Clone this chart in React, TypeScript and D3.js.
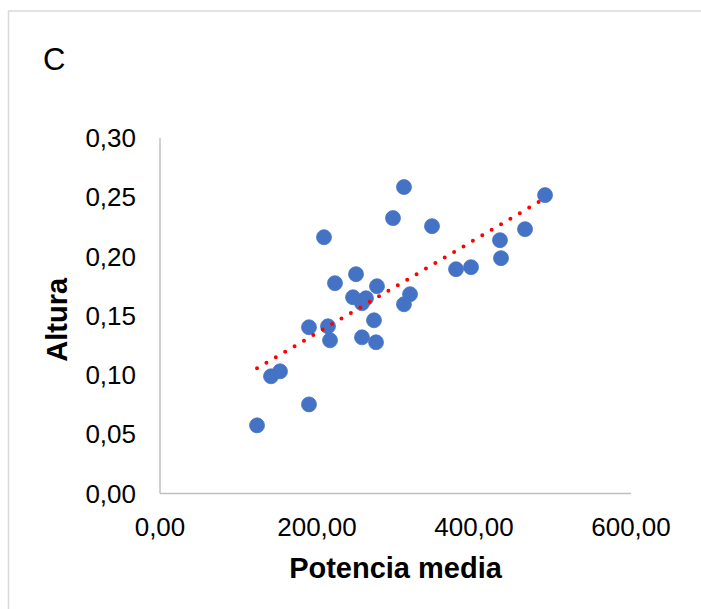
import { useEffect, useRef } from "react";
import * as d3 from "d3";

// Potencia media (x) vs Altura (y)
const potencia = [
  123.6, 141.4, 152.9, 189.8, 189.8, 214.0, 216.6, 208.9, 222.9, 249.7,
  245.9, 262.4, 257.3, 257.3, 275.2, 272.6, 276.4, 296.8, 310.8, 318.5,
  310.8, 346.5, 377.1, 396.2, 433.1, 434.4, 465.0, 490.5,
];
const altura = [
  0.0575, 0.0989, 0.1031, 0.0752, 0.1403, 0.1411, 0.1293, 0.2163, 0.1775, 0.1851,
  0.1656, 0.1648, 0.1606, 0.1318, 0.1276, 0.1462, 0.1749, 0.2324, 0.2586, 0.1682,
  0.1597, 0.2256, 0.1893, 0.191, 0.2138, 0.1986, 0.2231, 0.2518,
];
const xTicks = [0, 200, 400, 600];
const yTicks = [0, 0.05, 0.1, 0.15, 0.2, 0.25, 0.3];

const fmt = (d: number, digits: number) => d.toFixed(digits).replace(".", ",");

const App = () => {
  const svgRef = useRef<SVGSVGElement>(null);

  useEffect(() => {
    const svg = d3.select(svgRef.current);
    svg.selectAll("*").remove();

    const x = d3.scaleLinear().domain([0, 600]).range([160, 631]);
    const y = d3.scaleLinear().domain([0, 0.3]).range([493.5, 138]);
    const font = "Liberation Sans, Arial, sans-serif";

    // chart frame
    svg
      .append("rect")
      .attr("x", 8.5)
      .attr("y", 11)
      .attr("width", 720)
      .attr("height", 640)
      .attr("fill", "#fff")
      .attr("stroke", "#d9d9d9")
      .attr("stroke-width", 1.5);

    svg
      .append("text")
      .attr("x", 43)
      .attr("y", 70)
      .attr("font-family", font)
      .attr("font-size", 31)
      .text("C");

    // axes lines
    svg
      .append("line")
      .attr("x1", x(0))
      .attr("x2", x(0))
      .attr("y1", y(0.3))
      .attr("y2", y(0))
      .attr("stroke", "#bfbfbf")
      .attr("stroke-width", 1.5);
    svg
      .append("line")
      .attr("x1", x(0))
      .attr("x2", x(600))
      .attr("y1", y(0))
      .attr("y2", y(0))
      .attr("stroke", "#bfbfbf")
      .attr("stroke-width", 1.5);

    svg
      .append("g")
      .selectAll("text")
      .data(yTicks)
      .join("text")
      .attr("x", 136)
      .attr("y", (d) => y(d) + 9)
      .attr("text-anchor", "end")
      .attr("font-family", font)
      .attr("font-size", 26)
      .attr("fill", "#000")
      .text((d) => fmt(d, 2));

    svg
      .append("g")
      .selectAll("text")
      .data(xTicks)
      .join("text")
      .attr("x", (d) => x(d))
      .attr("y", 536)
      .attr("text-anchor", "middle")
      .attr("font-family", font)
      .attr("font-size", 26)
      .attr("fill", "#000")
      .text((d) => fmt(d, 2));

    svg
      .append("text")
      .attr("x", (x(0) + x(600)) / 2)
      .attr("y", 578)
      .attr("text-anchor", "middle")
      .attr("font-family", font)
      .attr("font-size", 29)
      .attr("font-weight", "bold")
      .text("Potencia media");

    svg
      .append("text")
      .attr("transform", `translate(67,${(y(0) + y(0.3)) / 2 + 4}) rotate(-90)`)
      .attr("text-anchor", "middle")
      .attr("font-family", font)
      .attr("font-size", 29)
      .attr("font-weight", "bold")
      .text("Altura");

    const data = potencia.map((p, i) => ({ p, a: altura[i] }));

    svg
      .append("g")
      .selectAll("circle")
      .data(data)
      .join("circle")
      .attr("cx", (d) => x(d.p))
      .attr("cy", (d) => y(d.a))
      .attr("r", 7.5)
      .attr("fill", "#4472c4")
      .attr("stroke", "#4472c4")
      .attr("stroke-width", 0.75);

    // linear trendline (least squares)
    const mx = d3.mean(potencia)!;
    const my = d3.mean(altura)!;
    const slope =
      d3.sum(data, (d) => (d.p - mx) * (d.a - my)) / d3.sum(data, (d) => (d.p - mx) ** 2);
    const icpt = my - slope * mx;
    const [x0, x1] = d3.extent(potencia) as [number, number];
    const line = d3
      .line<number>()
      .x((d) => x(d))
      .y((d) => y(icpt + slope * d));

    svg
      .append("path")
      .datum([x0, x1])
      .attr("d", line)
      .attr("fill", "none")
      .attr("stroke", "#ff0000")
      .attr("stroke-width", 4)
      .attr("stroke-linecap", "round")
      .attr("stroke-dasharray", "0 10.9");
  }, []);

  return (
    <svg
      ref={svgRef}
      width={701}
      height={609}
      style={{ position: "absolute", left: 0, top: 0 }}
    ></svg>
  );
};

export default App;
